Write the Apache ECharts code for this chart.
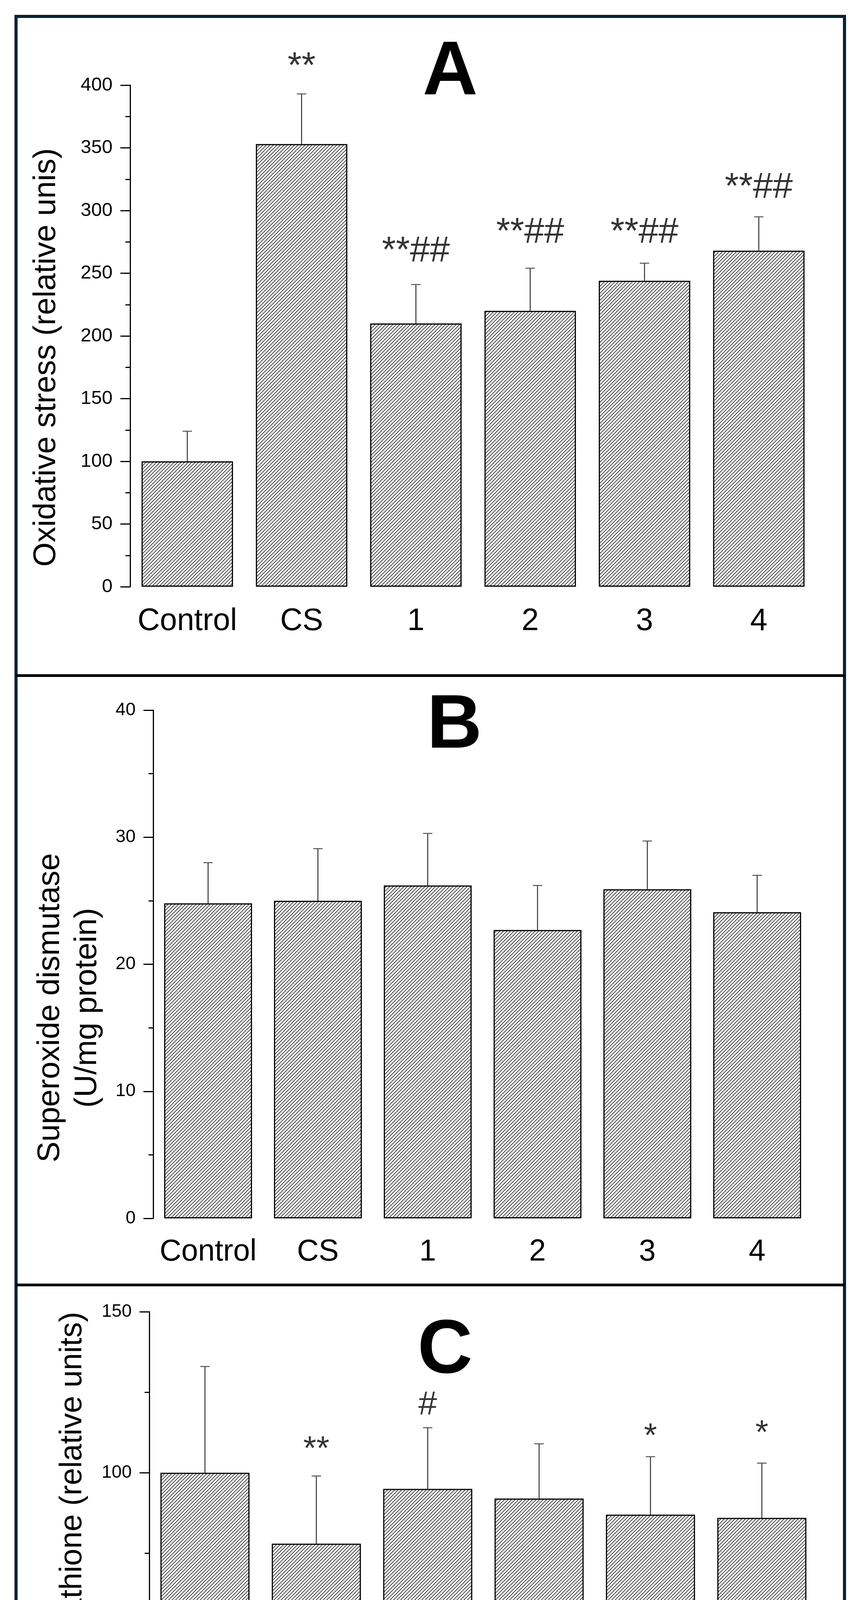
<!DOCTYPE html>
<html>
<head>
<meta charset="utf-8">
<script src="https://cdn.jsdelivr.net/npm/echarts@6/dist/echarts.min.js"></script>
<style>
html,body{margin:0;padding:0;background:#fff;}
#chart{width:2193px;height:4839px;}
</style>
</head>
<body>
<div id="chart"></div>
<script>
// ---------- data ----------
const groups = ['Control', 'CS', '1', '2', '3', '4'];

// Panel A: Oxidative stress
const oxMean  = [100, 353, 210, 220, 244, 268];
const oxUpper = [124, 393, 241, 254, 258, 295];
const oxMarks = ['', '**', '**##', '**##', '**##', '**##'];
const oxMarkY = [null, 414, 267, 282, 282, 318];
const oxTicks = [0, 400, 50];

// Panel B: Superoxide dismutase
const sodMean  = [24.8, 25.0, 26.2, 22.7, 25.9, 24.1];
const sodUpper = [28.0, 29.1, 30.3, 26.2, 29.7, 27.0];
const sodTicks = [0, 40, 10];

// Panel C: Intracellular glutathione
const gshMean  = [100, 78, 95, 92, 87, 86];
const gshUpper = [133, 99, 114, 109, 105, 103];
const gshMarks = ['', '**', '#', '', '*', '*'];
const gshMarkY = [null, 107, 121, null, 111, 112];
const gshTicks = [0, 150, 50];

// ---------- styling helpers ----------
const FONT = '"Liberation Sans", Arial, Helvetica, sans-serif';

function hatch() {
  const s = 9;
  const c = document.createElement('canvas');
  c.width = s; c.height = s;
  const g = c.getContext('2d');
  g.fillStyle = '#fff';
  g.fillRect(0, 0, s, s);
  g.strokeStyle = '#2a2a2a';
  g.lineWidth = 1.6;
  g.beginPath();
  g.moveTo(-1, s + 1); g.lineTo(s + 1, -1);
  g.moveTo(-1, 1); g.lineTo(1, -1);
  g.moveTo(s - 1, s + 1); g.lineTo(s + 1, s - 1);
  g.stroke();
  return c;
}
const pattern = { image: hatch(), repeat: 'repeat' };

function errRender(params, api) {
  const x = api.value(0), m = api.value(1), u = api.value(2);
  const p0 = api.coord([x, m]);
  const p1 = api.coord([x, u]);
  const cap = 12;
  return {
    type: 'group',
    children: [
      { type: 'line', shape: { x1: p0[0], y1: p0[1], x2: p1[0], y2: p1[1] },
        style: { stroke: '#333', lineWidth: 2.5 } },
      { type: 'line', shape: { x1: p1[0] - cap, y1: p1[1], x2: p1[0] + cap, y2: p1[1] },
        style: { stroke: '#555', lineWidth: 2.5 } }
    ]
  };
}

const grids = [
  { left: 333, top: 218, width: 1755, height: 1284 },
  { left: 392, top: 1818, width: 1686, height: 1301 },
  { left: 382, top: 3358, width: 1710, height: 1237 }
];
const tickFont = [49, 46, 46];
const catFont = [79, 77, 78];
const catMargin = [50, 48, 44];
const ticks = [oxTicks, sodTicks, gshTicks];
const minorSplit = [2, 2, 2];

const xAxes = grids.map((g, i) => ({
  type: 'category', gridIndex: i, data: groups,
  axisLine: { show: false }, axisTick: { show: false },
  axisLabel: { interval: 0, hideOverlap: false, fontSize: catFont[i], fontFamily: FONT, color: '#000',
               margin: catMargin[i], lineHeight: catFont[i] }
}));
const yAxes = grids.map((g, i) => ({
  type: 'value', gridIndex: i, min: ticks[i][0], max: ticks[i][1], interval: ticks[i][2],
  splitLine: { show: false },
  axisLine: { show: true, lineStyle: { color: '#000', width: 3 } },
  axisTick: { show: true, inside: false, length: 25, lineStyle: { color: '#000', width: 3 } },
  minorTick: { show: true, splitNumber: minorSplit[i], length: 12, lineStyle: { color: '#000', width: 3 } },
  axisLabel: { fontSize: tickFont[i], fontFamily: FONT, color: '#000', margin: 45 }
}));

function barSeries(idx, vals) {
  return {
    type: 'bar', xAxisIndex: idx, yAxisIndex: idx, data: vals, barWidth: '80%',
    itemStyle: { color: pattern, borderColor: '#000', borderWidth: 3 },
    silent: true, z: 2
  };
}
function errSeries(idx, mean, upper) {
  return {
    type: 'custom', xAxisIndex: idx, yAxisIndex: idx,
    data: mean.map((m, k) => [k, m, upper[k]]),
    encode: { x: 0, y: [1, 2] },
    renderItem: errRender, clip: false, silent: true, z: 3
  };
}
function markSeries(idx, marks, ys, size) {
  const data = [];
  marks.forEach((t, k) => { if (t && ys[k] != null) data.push({ value: [k, ys[k]], name: t }); });
  return {
    type: 'scatter', xAxisIndex: idx, yAxisIndex: idx, data: data,
    symbolSize: 1, itemStyle: { color: 'rgba(0,0,0,0)' }, clip: false, silent: true, z: 4,
    label: { show: true, position: 'inside', formatter: p => p.name,
             fontSize: size, fontFamily: FONT, color: '#000' }
  };
}

function panelLetter(t, x, y) {
  return { type: 'text', x: x, y: y, z: 10,
    style: { text: t, font: 'bold 195px ' + FONT, fill: '#000',
             align: 'center', verticalAlign: 'middle', textAlign: 'center', textVerticalAlign: 'middle' } };
}
function yTitle(t, x, y, size, lh) {
  return { type: 'text', x: x, y: y, rotation: Math.PI / 2, z: 10,
    style: { text: t, font: size + 'px ' + FONT, fill: '#000', lineHeight: lh || size,
             align: 'center', verticalAlign: 'middle', textAlign: 'center', textVerticalAlign: 'middle' } };
}

const option = {
  backgroundColor: '#fff',
  animation: false,
  grid: grids,
  xAxis: xAxes,
  yAxis: yAxes,
  series: [
    barSeries(0, oxMean), errSeries(0, oxMean, oxUpper), markSeries(0, oxMarks, oxMarkY, 92),
    barSeries(1, sodMean), errSeries(1, sodMean, sodUpper),
    barSeries(2, gshMean), errSeries(2, gshMean, gshUpper), markSeries(2, gshMarks, gshMarkY, 86)
  ],
  graphic: [
    { type: 'rect', z: 20, shape: { x: 41, y: 42, width: 2120, height: 4760 },
      style: { fill: 'none', stroke: '#0a2433', lineWidth: 8 } },
    { type: 'line', z: 20, shape: { x1: 41, y1: 1729.5, x2: 2161, y2: 1729.5 },
      style: { stroke: '#000', lineWidth: 7 } },
    { type: 'line', z: 20, shape: { x1: 41, y1: 3289.5, x2: 2161, y2: 3289.5 },
      style: { stroke: '#000', lineWidth: 7 } },
    panelLetter('A', 1152, 187),
    panelLetter('B', 1163, 1860),
    panelLetter('C', 1139, 3460),
    yTitle('Oxidative stress (relative unis)', 119, 915, 80),
    yTitle('Superoxide dismutase\n(U/mg protein)', 176, 2580, 80, 95),
    yTitle('Intracellular glutathione (relative units)', 186, 4026, 79)
  ]
};

const chart = echarts.init(document.getElementById('chart'), null, { renderer: 'canvas' });
chart.setOption(option);
</script>
</body>
</html>
